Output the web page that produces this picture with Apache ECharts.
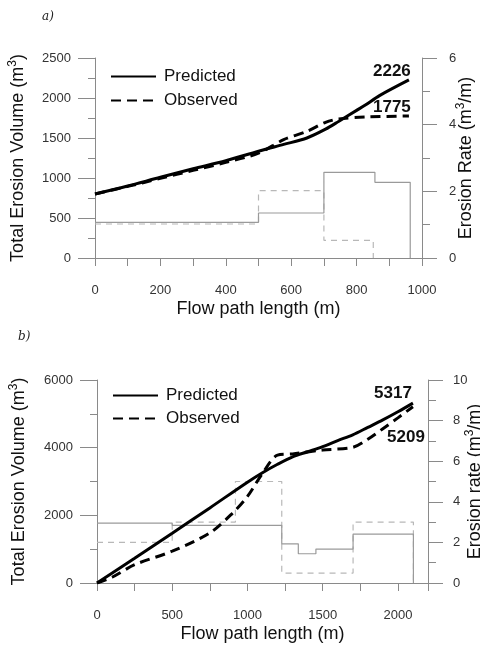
<!DOCTYPE html>
<html>
<head>
<meta charset="utf-8">
<script src="https://cdn.jsdelivr.net/npm/echarts@6/dist/echarts.min.js"></script>
<style>
  html, body { margin: 0; padding: 0; background: #fff; }
  #main { width: 480px; height: 645px; }
</style>
</head>
<body>
<div id="main"></div>
<script>
// panel a) cumulative erosion volume along the flow path
var lenA = [0, 100, 200, 300, 400, 500, 577, 648, 705, 746, 800, 828, 870, 960];
var predA = [800, 900, 1010, 1115, 1215, 1335, 1420, 1500, 1610, 1710, 1845, 1915, 2030, 2226];
var lenObsA = [0, 100, 200, 300, 400, 500, 577, 648, 705, 746, 828, 960];
var obsA = [800, 895, 995, 1095, 1195, 1310, 1479, 1583, 1696, 1738, 1762, 1775];
// panel a) erosion rate per reach (step edges + values)
var predRateEdgesA = [0, 500, 700, 856, 964];
var predRateA = [1.07, 1.35, 2.57, 2.27];
var obsRateEdgesA = [0, 500, 700, 851];
var obsRateA = [1.02, 2.02, 0.53];

// panel b)
var predLenB = [0, 250, 500, 750, 1000, 1100, 1200, 1300, 1400, 1500, 1600, 1700, 1800, 1900, 2000, 2100];
var predB = [0, 730, 1470, 2220, 2980, 3260, 3510, 3730, 3880, 4030, 4210, 4380, 4600, 4820, 5060, 5317];
var obsLenB = [0, 100, 250, 500, 750, 900, 1000, 1100, 1200, 1300, 1500, 1700, 1800, 1900, 2000, 2100];
var obsB = [0, 170, 540, 940, 1480, 2060, 2560, 3240, 3780, 3815, 3930, 4010, 4250, 4560, 4880, 5209];
var predRateEdgesB = [0, 500, 1228, 1338, 1455, 1702, 2103];
var predRateB = [2.95, 2.84, 1.93, 1.44, 1.67, 2.41];
var obsRateEdgesB = [0, 500, 920, 1228, 1702, 2103];
var obsRateB = [2.0, 3.0, 5.0, 0.49, 3.0];

var FONT = "Liberation Sans, Arial, sans-serif";

function pairs(xs, ys) {
  return xs.map(function (x, i) { return [x, ys[i]]; });
}
function steps(edges, vals) {
  var pts = vals.map(function (v, i) { return [edges[i], v]; });
  var last = edges[edges.length - 1];
  pts.push([last, vals[vals.length - 1]]);
  pts.push([last, 0]);
  return pts;
}
function lastPoint(xs, ys) {
  return [xs[xs.length - 1], ys[ys.length - 1]];
}

var axisGray = '#8a8a8a';
var labelStyle = { color: '#333', fontSize: 13, fontFamily: FONT };

function xAxisOf(gi, max, interval, labelEvery) {
  return {
    type: 'value', gridIndex: gi, min: 0, max: max, interval: interval,
    name: 'Flow path length (m)', nameLocation: 'middle', nameGap: 42, nameMoveOverlap: false,
    nameTextStyle: { fontSize: 18, color: '#111', fontFamily: FONT },
    axisLine: { lineStyle: { color: axisGray } },
    axisTick: { length: 8, lineStyle: { color: axisGray } },
    axisLabel: Object.assign({ margin: 26, formatter: function (v) { return v % labelEvery === 0 ? String(v) : ''; } }, labelStyle),
    splitLine: { show: false }
  };
}
function yAxisOf(gi, pos, max, interval, nameParts, gap, majorLen, minorLen, margin) {
  return {
    type: 'value', gridIndex: gi, position: pos, min: 0, max: max, interval: interval,
    name: '{a|' + nameParts[0] + '}{s|3}{a|' + nameParts[1] + '}',
    nameLocation: 'middle', nameRotate: 90, nameGap: gap, nameMoveOverlap: false,
    nameTextStyle: {
      rich: {
        a: { fontSize: 18, color: '#111', fontFamily: FONT, lineHeight: 22 },
        s: { fontSize: 12, color: '#111', fontFamily: FONT, verticalAlign: 'top', lineHeight: 22 }
      }
    },
    axisLine: { show: true, onZero: false, lineStyle: { color: axisGray } },
    axisTick: { show: true, length: majorLen, lineStyle: { color: axisGray } },
    minorTick: { show: true, splitNumber: 2, length: minorLen, lineStyle: { color: axisGray } },
    axisLabel: Object.assign({ margin: margin, formatter: function (v) { return String(v); } }, labelStyle),
    splitLine: { show: false }
  };
}

var bold = { fontSize: 17, fontWeight: 'bold', color: '#111', fontFamily: FONT };
function endMark(xs, ys, offset) {
  var p = lastPoint(xs, ys);
  return {
    symbol: 'circle', symbolSize: 0, silent: true,
    label: Object.assign({ show: true, offset: offset, formatter: String(p[1]) }, bold),
    data: [{ coord: p }]
  };
}

function curve(name, xi, yi, data, dashed, mark) {
  return {
    name: name, type: 'line', xAxisIndex: xi, yAxisIndex: yi, data: data,
    symbol: 'none', z: 5, animation: false, smooth: 0.3,
    lineStyle: { color: '#000', width: 3, type: dashed ? [10, 6] : 'solid' },
    itemStyle: { color: '#000' },
    markPoint: mark
  };
}
function stepLine(xi, yi, data, dashed) {
  return {
    name: dashed ? 'obs-rate' : 'pred-rate', type: 'line', step: 'end',
    xAxisIndex: xi, yAxisIndex: yi, data: data, symbol: 'none', z: 2, animation: false,
    lineStyle: { color: dashed ? '#b8b8b8' : '#9a9a9a', width: 1.2, type: dashed ? [6, 5] : 'solid' }
  };
}

function legendAt(left, top, gap) {
  return {
    data: ['Predicted', 'Observed'], orient: 'vertical', left: left, top: top, padding: 0,
    itemWidth: 45, itemHeight: 18, itemGap: gap, selectedMode: false,
    itemStyle: { opacity: 0, borderWidth: 0 },
    textStyle: { fontSize: 17, color: '#111', fontFamily: FONT, padding: [0, 0, 0, 3] }
  };
}

var chart = echarts.init(document.getElementById('main'), null, { renderer: 'canvas' });
chart.setOption({
  animation: false,
  backgroundColor: '#fff',
  title: [
    { text: 'a)', left: 37, top: 6, textStyle: { fontSize: 12, fontStyle: 'italic', fontWeight: 'normal', fontFamily: 'DejaVu Serif, serif', color: '#222' } },
    { text: 'b)', left: 13, top: 326, textStyle: { fontSize: 12, fontStyle: 'italic', fontWeight: 'normal', fontFamily: 'DejaVu Serif, serif', color: '#222' } }
  ],
  legend: [legendAt(110, 68, 7), legendAt(112, 387, 6)],
  grid: [
    { left: 95, top: 58, width: 327, height: 200, outerBoundsMode: 'none', containLabel: false },
    { left: 97, top: 380, width: 331, height: 203, outerBoundsMode: 'none', containLabel: false }
  ],
  xAxis: [
    xAxisOf(0, 1000, 100, 200),
    xAxisOf(1, 2200, 250, 500)
  ],
  yAxis: [
    yAxisOf(0, 'left', 2500, 500, ['Total Erosion Volume (m', ')'], 66, 17, 7, 24),
    yAxisOf(0, 'right', 6, 2, ['Erosion Rate (m', '/m)'], 33, 15, 8, 27),
    yAxisOf(1, 'left', 6000, 2000, ['Total Erosion Volume (m', ')'], 67, 17, 7, 24),
    yAxisOf(1, 'right', 10, 2, ['Erosion rate (m', '/m)'], 36, 15, 8, 25)
  ],
  series: [
    stepLine(0, 1, steps(obsRateEdgesA, obsRateA), true),
    stepLine(0, 1, steps(predRateEdgesA, predRateA), false),
    curve('Predicted', 0, 0, pairs(lenA, predA), false, endMark(lenA, predA, [-17, -9])),
    curve('Observed', 0, 0, pairs(lenObsA, obsA), true, endMark(lenObsA, obsA, [-17, -9])),
    stepLine(1, 3, steps(obsRateEdgesB, obsRateB), true),
    stepLine(1, 3, steps(predRateEdgesB, predRateB), false),
    curve('Predicted', 1, 2, pairs(predLenB, predB), false, endMark(predLenB, predB, [-20, -10])),
    curve('Observed', 1, 2, pairs(obsLenB, obsB), true, endMark(obsLenB, obsB, [-7, 31]))
  ]
});
</script>
</body>
</html>
